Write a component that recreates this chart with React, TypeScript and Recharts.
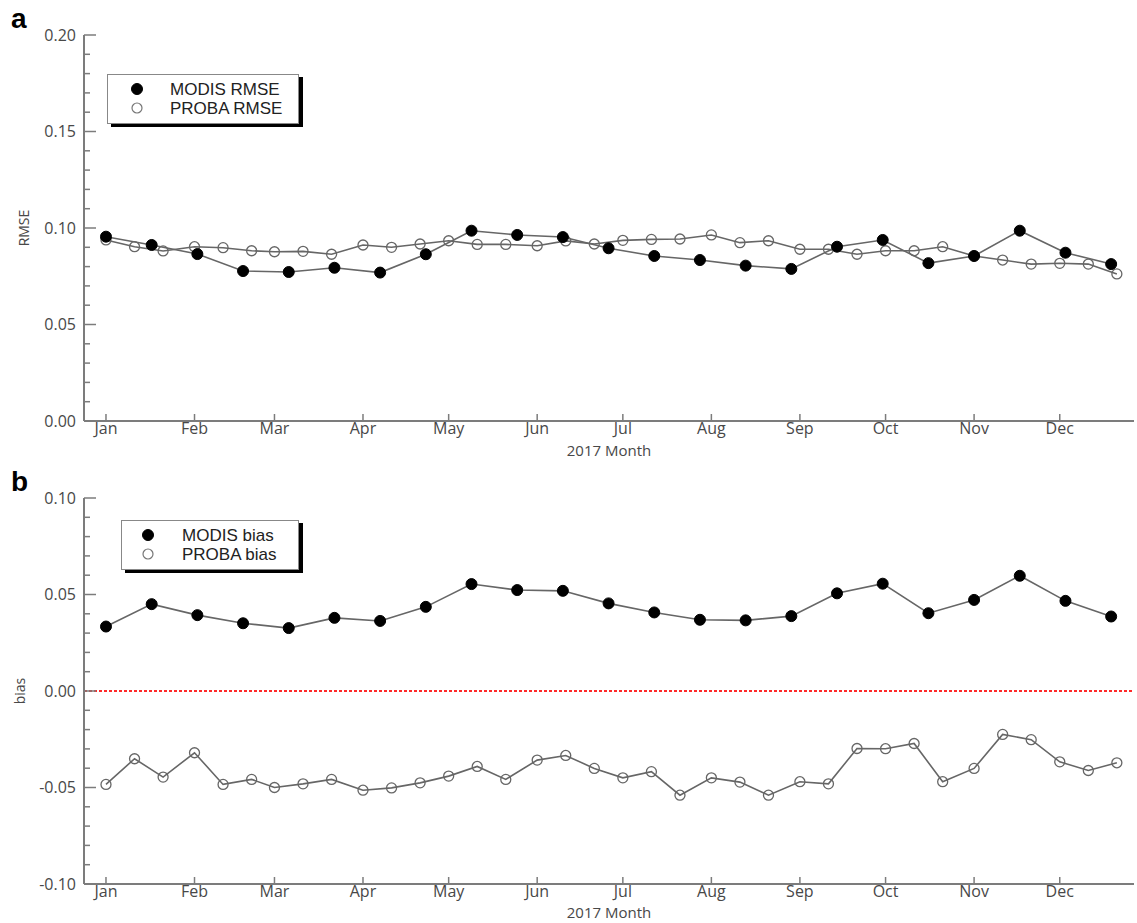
import React from 'react';
import { LineChart, Line, XAxis, YAxis, ReferenceLine, Legend } from 'recharts';

// ---- data ----
const monthTicks = [1, 32, 60, 91, 121, 152, 182, 213, 244, 274, 305, 335];
const monthLabels = ['Jan', 'Feb', 'Mar', 'Apr', 'May', 'Jun', 'Jul', 'Aug', 'Sep', 'Oct', 'Nov', 'Dec'];

// MODIS: 16-day composites (day of year)
const modisDays = [1, 17, 33, 49, 65, 81, 97, 113, 129, 145, 161, 177, 193, 209, 225, 241, 257, 273, 289, 305, 321, 337, 353];
// PROBA-V: 10-day (dekad) composites (day of year)
const probaDays = [1, 11, 21, 32, 42, 52, 60, 70, 80, 91, 101, 111, 121, 131, 141, 152, 162, 172, 182, 192, 202, 213, 223, 233, 244, 254, 264, 274, 284, 294, 305, 315, 325, 335, 345, 355];

const modisRmse = [0.0955, 0.0912, 0.0865, 0.0777, 0.0772, 0.0794, 0.0769, 0.0864, 0.0986, 0.0964, 0.0953, 0.0895, 0.0855, 0.0834, 0.0805, 0.0788, 0.0903, 0.0938, 0.0818, 0.0855, 0.0986, 0.0872, 0.0813];
const probaRmse = [0.0938, 0.0903, 0.0881, 0.0903, 0.0898, 0.0882, 0.0877, 0.0879, 0.0864, 0.0912, 0.0900, 0.0917, 0.0934, 0.0915, 0.0915, 0.0908, 0.0933, 0.0917, 0.0936, 0.0941, 0.0943, 0.0964, 0.0924, 0.0934, 0.0890, 0.0890, 0.0864, 0.0882, 0.0882, 0.0903, 0.0855, 0.0834, 0.0813, 0.0817, 0.0813, 0.0762];

const modisBias = [0.0334, 0.0450, 0.0393, 0.0351, 0.0326, 0.0379, 0.0363, 0.0436, 0.0554, 0.0523, 0.0519, 0.0454, 0.0407, 0.0369, 0.0366, 0.0388, 0.0506, 0.0556, 0.0403, 0.0472, 0.0597, 0.0467, 0.0386];
const probaBias = [-0.0484, -0.0351, -0.0446, -0.0320, -0.0484, -0.0458, -0.0500, -0.0481, -0.0458, -0.0514, -0.0502, -0.0476, -0.0441, -0.0391, -0.0458, -0.0358, -0.0334, -0.0401, -0.0450, -0.0418, -0.0540, -0.0450, -0.0472, -0.0540, -0.0470, -0.0481, -0.0298, -0.0299, -0.0272, -0.0470, -0.0401, -0.0225, -0.0252, -0.0367, -0.0412, -0.0372];

const rmseTicks = [0, 0.01, 0.02, 0.03, 0.04, 0.05, 0.06, 0.07, 0.08, 0.09, 0.1, 0.11, 0.12, 0.13, 0.14, 0.15, 0.16, 0.17, 0.18, 0.19, 0.2];
const biasTicks = [-0.1, -0.09, -0.08, -0.07, -0.06, -0.05, -0.04, -0.03, -0.02, -0.01, 0, 0.01, 0.02, 0.03, 0.04, 0.05, 0.06, 0.07, 0.08, 0.09, 0.1];

const xDomain = [-6.7, 361];

const toRows = (days: number[], vals: number[]) => days.map((d, i) => ({ day: d, v: vals[i] }));
const modisRmseRows = toRows(modisDays, modisRmse);
const probaRmseRows = toRows(probaDays, probaRmse);
const modisBiasRows = toRows(modisDays, modisBias);
const probaBiasRows = toRows(probaDays, probaBias);

// ---- styles ----
const AXIS = '#7c7c7c';
const TXT = '#484848';
const FONT = '"Open Sans", sans-serif';
const LEG_FONT = '"Liberation Sans", Arial, sans-serif';
const LINE = '#666';

const isMajor = (v: number) => Math.round(v * 100) % 5 === 0;

const BottomTick = (props: any) => {
  const { x, y, payload } = props;
  const i = monthTicks.indexOf(payload.value);
  return (
    <g>
      <line x1={x} x2={x} y1={y} y2={y - 7} stroke={AXIS} strokeWidth={1.5} />
      <text x={x} y={y + 2} dy="0.71em" textAnchor="middle" fill={TXT} fontSize={16} fontFamily={FONT}>
        {monthLabels[i]}
      </text>
    </g>
  );
};

const TopTick = (props: any) => {
  const { x, y } = props;
  return <line x1={x} x2={x} y1={y} y2={y + 7} stroke={AXIS} strokeWidth={1.5} />;
};

const LeftTick = (props: any) => {
  const { x, y, payload } = props;
  const major = isMajor(payload.value);
  return (
    <g>
      <line x1={x} x2={x + (major ? 12 : 6)} y1={y} y2={y} stroke={AXIS} strokeWidth={1.5} />
      {major ? (
        <text x={x - 8} y={y} dy="0.36em" textAnchor="end" fill={TXT} fontSize={16} fontFamily={FONT}>
          {payload.value.toFixed(2)}
        </text>
      ) : null}
    </g>
  );
};

const RightTick = (props: any) => {
  const { x, y, payload } = props;
  const major = isMajor(payload.value);
  return <line x1={x} x2={x - (major ? 12 : 6)} y1={y} y2={y} stroke={AXIS} strokeWidth={1.5} />;
};

const makeLegend = (labels: string[], w: number, circleX: number, textX: number) => () => (
  <svg width={w + 5} height={55} style={{ display: 'block' }}>
    <rect x={4} y={3} width={w} height={50} fill="#000" />
    <rect x={0.5} y={0.5} width={w - 1} height={49} fill="#fff" stroke="#888" strokeWidth={1} />
    <circle cx={circleX} cy={15} r={5.5} fill="#000" stroke="#000" />
    <circle cx={circleX} cy={34} r={5} fill="#fff" stroke="#777" strokeWidth={1.2} />
    <text x={textX} y={15} dy="0.36em" fontSize={17} fontFamily={LEG_FONT} fill="#222">{labels[0]}</text>
    <text x={textX} y={34} dy="0.36em" fontSize={17} fontFamily={LEG_FONT} fill="#222">{labels[1]}</text>
  </svg>
);

const filledDot = { r: 5.5, fill: '#000', stroke: '#000', strokeWidth: 1 };
const openDot = { r: 5, fill: 'none', stroke: '#666', strokeWidth: 1.3 };

const axisCommon = {
  tickLine: false,
  tickSize: 0,
  tickMargin: 0,
  interval: 0 as const,
  axisLine: { stroke: AXIS, strokeWidth: 2 },
};

export default function App() {
  return (
    <div style={{ position: 'absolute', left: 0, top: 0, width: 1137, height: 923, background: '#fff', overflow: 'hidden' }}>
      <div style={{ position: 'absolute', left: 11, top: 2, fontFamily: LEG_FONT, fontWeight: 'bold', fontSize: 28, lineHeight: '34px', color: '#000' }}>a</div>
      <div style={{ position: 'absolute', left: 11, top: 465, fontFamily: LEG_FONT, fontWeight: 'bold', fontSize: 28, lineHeight: '34px', color: '#000' }}>b</div>

      <div style={{ position: 'absolute', left: 0, top: 0 }}>
        <LineChart width={1137} height={470} margin={{ top: 35, right: 3, bottom: 0, left: 0 }}>
          <XAxis
            dataKey="day"
            type="number"
            domain={xDomain}
            allowDataOverflow
            ticks={monthTicks}
            height={49}
            tick={<BottomTick />}
            {...axisCommon}
            label={{ value: '2017 Month', position: 'insideBottom', offset: 14, style: { fontSize: 15, fontFamily: FONT, fill: TXT } }}
          />
          <XAxis xAxisId="top" orientation="top" dataKey="day" type="number" domain={xDomain} allowDataOverflow ticks={monthTicks} height={0} tick={<TopTick />} {...axisCommon} />
          <YAxis
            type="number"
            domain={[0, 0.2]}
            ticks={rmseTicks}
            width={84}
            tick={<LeftTick />}
            {...axisCommon}
            label={{ value: 'RMSE', angle: -90, position: 'insideLeft', offset: 24, style: { textAnchor: 'middle', fontSize: 14, fontFamily: FONT, fill: TXT } }}
          />
          <YAxis yAxisId="right" orientation="right" type="number" domain={[0, 0.2]} ticks={rmseTicks} width={0} tick={<RightTick />} {...axisCommon} />
          <Legend verticalAlign="middle" align="center" content={makeLegend(['MODIS RMSE', 'PROBA RMSE'], 192, 30, 63)} wrapperStyle={{ left: 107, top: 74, width: 200, height: 55 }} />
          <Line data={probaRmseRows} dataKey="v" name="PROBA RMSE" stroke={LINE} strokeWidth={1.6} dot={openDot} isAnimationActive={false} />
          <Line data={modisRmseRows} dataKey="v" name="MODIS RMSE" stroke={LINE} strokeWidth={1.6} dot={filledDot} isAnimationActive={false} />
        </LineChart>
      </div>

      <div style={{ position: 'absolute', left: 0, top: 470 }}>
        <LineChart width={1137} height={453} margin={{ top: 28, right: 3, bottom: 0, left: 0 }}>
          <XAxis
            dataKey="day"
            type="number"
            domain={xDomain}
            allowDataOverflow
            ticks={monthTicks}
            height={39}
            tick={<BottomTick />}
            {...axisCommon}
            label={{ value: '2017 Month', position: 'insideBottom', offset: 5, style: { fontSize: 15, fontFamily: FONT, fill: TXT } }}
          />
          <XAxis xAxisId="top" orientation="top" dataKey="day" type="number" domain={xDomain} allowDataOverflow ticks={monthTicks} height={0} tick={<TopTick />} {...axisCommon} />
          <YAxis
            type="number"
            domain={[-0.1, 0.1]}
            ticks={biasTicks}
            width={84}
            tick={<LeftTick />}
            {...axisCommon}
            label={{ value: 'bias', angle: -90, position: 'insideLeft', offset: 20, style: { textAnchor: 'middle', fontSize: 14, fontFamily: FONT, fill: TXT } }}
          />
          <YAxis yAxisId="right" orientation="right" type="number" domain={[-0.1, 0.1]} ticks={biasTicks} width={0} tick={<RightTick />} {...axisCommon} />
          <ReferenceLine y={0} stroke="#ff2a2a" strokeWidth={2} strokeDasharray="3 2" />
          <Legend verticalAlign="middle" align="center" content={makeLegend(['MODIS bias', 'PROBA bias'], 178, 27, 61)} wrapperStyle={{ left: 121, top: 50, width: 185, height: 55 }} />
          <Line data={probaBiasRows} dataKey="v" name="PROBA bias" stroke={LINE} strokeWidth={1.6} dot={openDot} isAnimationActive={false} />
          <Line data={modisBiasRows} dataKey="v" name="MODIS bias" stroke={LINE} strokeWidth={1.6} dot={filledDot} isAnimationActive={false} />
        </LineChart>
      </div>
    </div>
  );
}
